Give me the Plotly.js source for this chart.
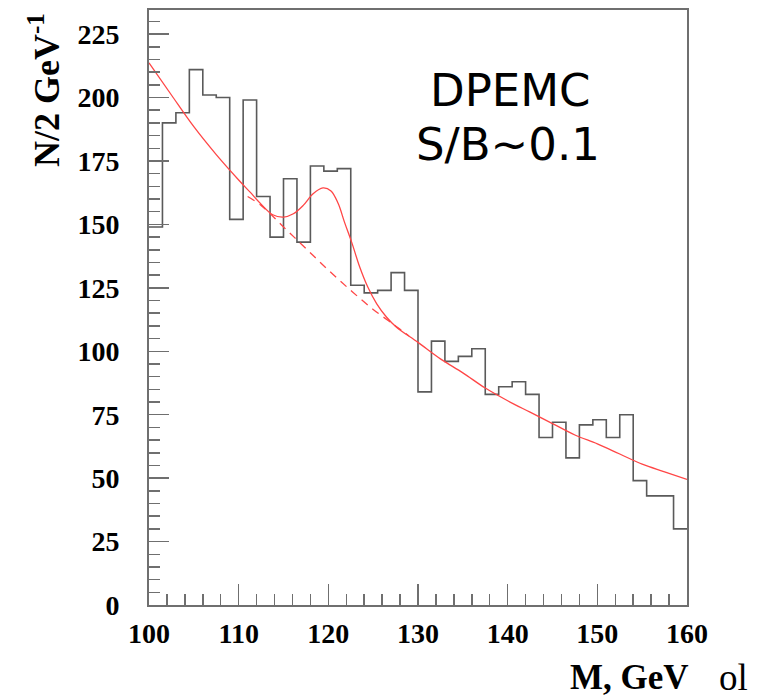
<!DOCTYPE html>
<html>
<head>
<meta charset="utf-8">
<script src="https://cdn.plot.ly/plotly-3.0.1.min.js"></script>
<style>
  html, body { margin: 0; padding: 0; background: #ffffff; }
  #chart { width: 763px; height: 698px; }
</style>
</head>
<body>
<div id="chart"></div>
<script>
// Histogram: lower bin edges (GeV) and counts per bin
const binLowEdges = [100, 101.5, 103, 104.5, 106, 107.5, 109, 110.5, 112, 113.5,
                     115, 116.5, 118, 119.5, 121, 122.5, 124, 125.5, 127, 128.5,
                     130, 131.5, 133, 134.5, 136, 137.5, 139, 140.5, 142, 143.5,
                     145, 146.5, 148, 149.5, 151, 152.5, 154, 155.5, 157, 158.5];
const binUpperEnd = 160;
const counts = [149, 190, 194, 211, 201, 200, 152, 199, 161, 145,
                168, 143, 173, 171, 172, 126, 123, 124, 131, 124,
                 84, 104,  96,  98, 101,  83,  86,  88,  83,  66,
                 72,  58,  71,  73,  66,  75,  49,  43,  43,  30];

// Fit: signal + background (solid red)
const fitMass  = [100, 102.5, 105, 107.5, 110, 111.25, 112.5, 113.8, 115, 116.1,
                  117.2, 118.3, 119.4, 120.3, 121.1, 121.8, 122.6, 123.5, 124.4, 125.4,
                  126.5, 127.6, 130, 132.5, 135, 137.5, 140, 142.5, 145, 147.5,
                  150, 152.5, 155, 157.5, 160];
const fitTotal = [213.7, 201, 188.5, 177.5, 167.5, 162.8, 158, 153.8, 152.9, 154.2,
                  157.5, 162.1, 164.4, 163.2, 158.2, 150.9, 143.0, 133.2, 125.3, 118.7,
                  113.4, 109.5, 103.5, 97, 91.5, 85.5, 80.5, 76, 71.5, 67,
                  63.5, 59.5, 55.5, 52.5, 49.5];

// Background only (dashed red) under the peak
const bgMass  = [111, 112.5, 115, 117.5, 120, 122.5, 125, 127.5, 129];
const bgValue = [161, 157.5, 149, 140.5, 132, 124, 116.5, 110, 106];

// Axis ticks
const xTickVals = [100, 110, 120, 130, 140, 150, 160];
const yTickVals = [0, 25, 50, 75, 100, 125, 150, 175, 200, 225];

const histX = binLowEdges.concat([binUpperEnd]);
const histY = counts.concat([counts[counts.length - 1]]);

const frameColor = '#6f6f6f';
const red = 'rgb(255,70,70)';

const traces = [
  {
    type: 'scatter', mode: 'lines', x: histX, y: histY,
    line: { shape: 'hv', color: '#5a5a5a', width: 1.6 },
    hoverinfo: 'skip', showlegend: false
  },
  {
    type: 'scatter', mode: 'lines', x: bgMass, y: bgValue,
    line: { shape: 'spline', smoothing: 1, color: red, width: 1.3, dash: '8px,6px' },
    hoverinfo: 'skip', showlegend: false
  },
  {
    type: 'scatter', mode: 'lines', x: fitMass, y: fitTotal,
    line: { shape: 'spline', smoothing: 1, color: red, width: 1.3 },
    hoverinfo: 'skip', showlegend: false
  }
];

const tickFont = { family: 'Liberation Serif, Times New Roman, serif', size: 28, color: '#000', weight: 'bold' };

// plot area in pixels: left 149, right 687, top 10, bottom 605
const L = 149, R = 687, T = 10, B = 605;
const px = v => (v - L) / (R - L);
const py = v => (B - v) / (B - T);

const layout = {
  width: 763, height: 698,
  margin: { l: L, r: 763 - R, t: T, b: 698 - B, pad: 0 },
  paper_bgcolor: '#ffffff', plot_bgcolor: '#ffffff',
  showlegend: false,
  xaxis: {
    range: [100, 160], tickvals: xTickVals, ticktext: xTickVals.map(String),
    showline: true, mirror: true, linecolor: frameColor, linewidth: 2,
    ticks: 'inside', ticklen: 21, tickwidth: 1.5, tickcolor: frameColor,
    showgrid: false, zeroline: false, tickfont: tickFont, ticklabelstandoff: 2,
    minor: { ticks: 'inside', ticklen: 11, dtick: 2, tick0: 100, tickwidth: 1.5, tickcolor: frameColor, showgrid: false }
  },
  yaxis: {
    range: [0, 234.5], tickvals: yTickVals, ticktext: yTickVals.map(String),
    showline: true, mirror: true, linecolor: frameColor, linewidth: 2,
    ticks: 'inside', ticklen: 20, tickwidth: 1.5, tickcolor: frameColor,
    showgrid: false, zeroline: false, tickfont: tickFont, ticklabelstandoff: 22,
    minor: { ticks: 'inside', ticklen: 11, dtick: 5, tick0: 0, tickwidth: 1.5, tickcolor: frameColor, showgrid: false }
  },
  annotations: [
    {
      xref: 'paper', yref: 'paper', x: px(45), y: py(90), xanchor: 'center', yanchor: 'middle',
      text: 'N/2 GeV<sup>-1</sup>', textangle: -90, showarrow: false,
      font: { family: 'Liberation Serif, Times New Roman, serif', size: 36, color: '#000', weight: 'bold' }
    },
    {
      xref: 'paper', yref: 'paper', x: px(629), y: py(677), xanchor: 'center', yanchor: 'middle',
      text: 'M, GeV', showarrow: false,
      font: { family: 'Liberation Serif, Times New Roman, serif', size: 35, color: '#000', weight: 'bold' }
    },
    {
      xref: 'paper', yref: 'paper', x: px(734), y: py(677), xanchor: 'center', yanchor: 'middle',
      text: 'ol', showarrow: false,
      font: { family: 'Liberation Serif, Times New Roman, serif', size: 37, color: '#000' }
    },
    {
      xref: 'paper', yref: 'paper', x: px(510), y: py(91), xanchor: 'center', yanchor: 'middle',
      text: 'DPEMC', showarrow: false,
      font: { family: 'Comic Sans MS, DejaVu Sans, sans-serif', size: 45, color: '#000' }
    },
    {
      xref: 'paper', yref: 'paper', x: px(508), y: py(145), xanchor: 'center', yanchor: 'middle',
      text: 'S/B~0.1', showarrow: false,
      font: { family: 'Comic Sans MS, DejaVu Sans, sans-serif', size: 45, color: '#000' }
    }
  ]
};

Plotly.newPlot('chart', traces, layout, { displayModeBar: false, staticPlot: true });
</script>
</body>
</html>
